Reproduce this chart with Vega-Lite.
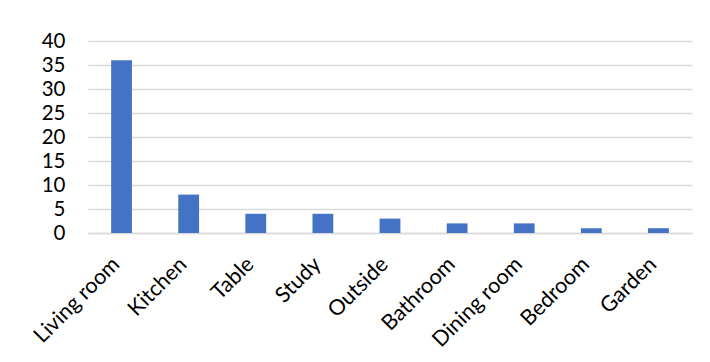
{
  "$schema": "https://vega.github.io/schema/vega-lite/v6.json",
  "width": 604,
  "height": 192,
  "autosize": {"type": "none"},
  "padding": {"left": 88, "top": 41, "right": 18, "bottom": 129},
  "background": "white",
  "config": {
    "view": {"stroke": null},
    "font": "Lato",
    "axis": {"labelFont": "Lato", "labelColor": "#000000"}
  },
  "data": {
    "values": [
      {"room": "Living room", "count": 36},
      {"room": "Kitchen", "count": 8},
      {"room": "Table", "count": 4},
      {"room": "Study", "count": 4},
      {"room": "Outside", "count": 3},
      {"room": "Bathroom", "count": 2},
      {"room": "Dining room", "count": 2},
      {"room": "Bedroom", "count": 1},
      {"room": "Garden", "count": 1}
    ]
  },
  "mark": {"type": "bar", "color": "#4472C4"},
  "encoding": {
    "x": {
      "field": "room",
      "type": "nominal",
      "sort": null,
      "scale": {"paddingInner": 0.69, "paddingOuter": 0.345},
      "axis": {
        "title": null,
        "labelAngle": -45,
        "labelAlign": "right",
        "labelBaseline": "middle",
        "labelPadding": 28,
        "labelOffset": -5,
        "labelFontSize": 21.5,
        "ticks": false,
        "domainColor": "#D9D9D9",
        "domainWidth": 1.3
      }
    },
    "y": {
      "field": "count",
      "type": "quantitative",
      "scale": {"domain": [0, 40], "nice": false},
      "axis": {
        "title": null,
        "values": [0, 5, 10, 15, 20, 25, 30, 35, 40],
        "domain": false,
        "ticks": false,
        "labelPadding": 23,
        "labelFontSize": 20.5,
        "gridColor": "#D9D9D9",
        "gridWidth": 1.3
      }
    }
  }
}
